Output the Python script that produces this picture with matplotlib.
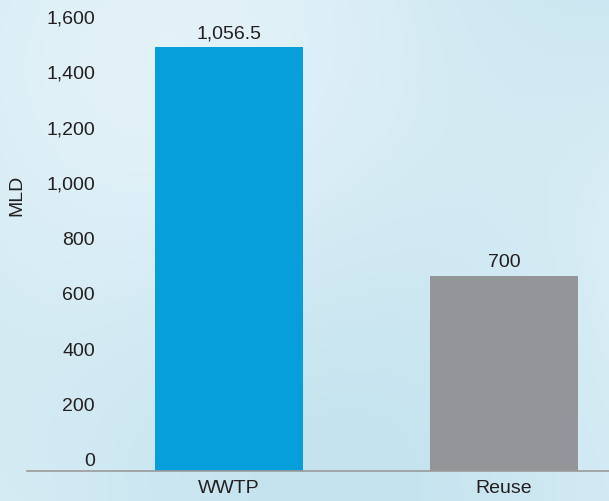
import matplotlib.pyplot as plt
import matplotlib.transforms as mtransforms
import numpy as np

plt.rcParams['font.family'] = ['Liberation Sans', 'DejaVu Sans']

categories = ["WWTP", "Reuse"]
values = [1530, 705]
value_labels = ["1,056.5", "700"]
bar_colors = ["#079fdb", "#939598"]
yticks = [0, 200, 400, 600, 800, 1000, 1200, 1400, 1600]

text_color = "#231f20"

fig = plt.figure(figsize=(6.09, 5.02), dpi=100)
fig.patch.set_facecolor("#d2eaf3")

# soft washed background
bg = fig.add_axes([0, 0, 1, 1], zorder=-1)
yy, xx = np.mgrid[0:1:200j, 0:1:240j]
wash = 0.5 + 0.25 * np.sin(xx * 5.0 + yy * 2.0) + 0.25 * np.cos(yy * 4.0 - xx * 1.5)
bg.imshow(wash, cmap=plt.matplotlib.colors.LinearSegmentedColormap.from_list(
    "wash", ["#c4e3ef", "#e3f2f8"]), aspect="auto", extent=[0, 1, 0, 1])
bg.axis("off")

ax = fig.add_axes([27 / 609, 30 / 502, 582 / 609, 472 / 502])
ax.set_facecolor("none")

x = np.arange(len(categories))
bars = ax.bar(x, values, width=0.538, color=bar_colors)
ax.bar_label(bars, labels=value_labels, padding=4, fontsize=14, color=text_color)

ax.set_xlim(-0.735, 1.382)
ax.set_ylim(0, 1704)
ax.set_xticks(x)
ax.set_xticklabels(categories)
ax.set_yticks(yticks)
ax.set_yticklabels([f"{v:,}" for v in yticks])
ax.tick_params(axis="both", length=0, labelsize=14, colors=text_color)
ax.tick_params(axis="y", pad=-49)
ax.tick_params(axis="x", pad=6)

offset = mtransforms.ScaledTranslation(0, 0.12, fig.dpi_scale_trans)
for lab in ax.get_yticklabels():
    lab.set_transform(lab.get_transform() + offset)

for s in ["top", "right", "left"]:
    ax.spines[s].set_visible(False)
ax.spines["bottom"].set_color("#9a9a9a")
ax.spines["bottom"].set_linewidth(1.2)

fig.text(17 / 609, 1 - 195 / 502, "MLD", rotation=90, ha="center", va="center",
         fontsize=14, color=text_color)

fig.savefig("out.png", dpi=100, facecolor=fig.get_facecolor())
